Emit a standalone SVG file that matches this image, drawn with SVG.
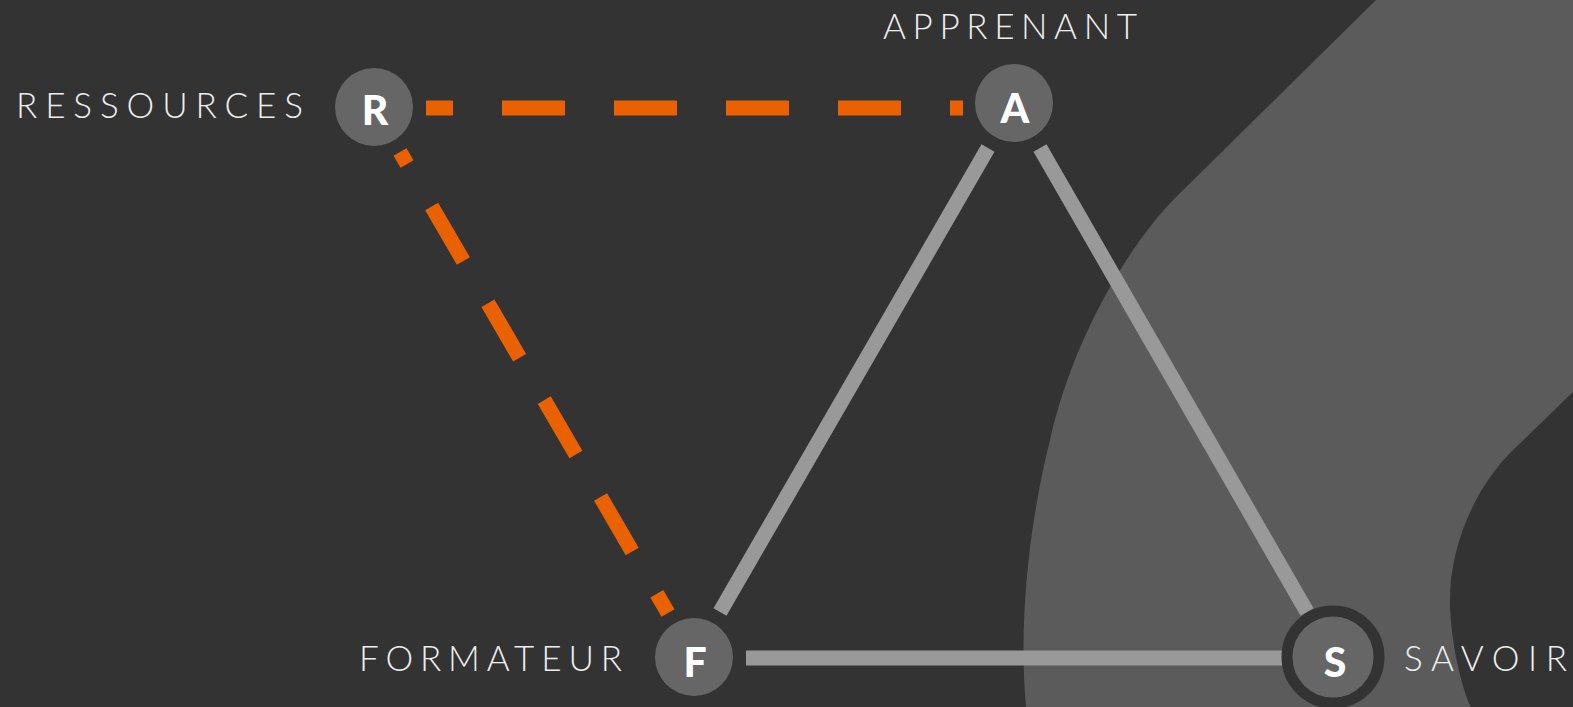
<svg xmlns="http://www.w3.org/2000/svg" width="1573" height="707" viewBox="0 0 1573 707">
  <style>
    .label { font-family: "Lato", "Open Sans", "Liberation Sans", sans-serif; font-weight: 300; font-size: 35px; fill: #eeeeee; }
    .node circle { fill: #666666; }
    .initial { font-family: "Lato", "Open Sans", "Liberation Sans", sans-serif; font-weight: 900; font-size: 41px; fill: #ffffff; text-anchor: middle; }
    .solid { stroke: #999999; stroke-width: 15; fill: none; }
    .dashed { stroke: #EA6200; stroke-width: 15; fill: none; stroke-dasharray: 63 49; }
  </style>
  <rect x="0" y="0" width="1573" height="707" fill="#333333"/>
  <path id="background-band" fill="#5b5b5b" d="M1376,0 L1573,0 L1573,392 L1512,451 C1475,488 1450,545 1450,600 C1450,640 1462,690 1471,707 L1026,707 C1018,620 1030,520 1050,440 C1070,350 1120,255 1175,198 Z"/>
  <g id="connectors">
    <line class="dashed" x1="426" y1="108" x2="963" y2="108" stroke-dashoffset="36"/>
    <line class="dashed" x1="400" y1="152" x2="668" y2="613" stroke-dashoffset="49"/>
    <line class="solid" x1="988" y1="148" x2="720" y2="612"/>
    <line class="solid" x1="1040" y1="148" x2="1307" y2="612"/>
    <line class="solid" x1="746" y1="658" x2="1283" y2="658"/>
  </g>
  <g id="node-R" class="node">
    <circle cx="374" cy="107" r="39"/>
    <text class="initial" x="375" y="125">R</text>
    <text class="label" x="16" y="118" textLength="287" lengthAdjust="spacing">RESSOURCES</text>
  </g>
  <g id="node-A" class="node">
    <circle cx="1014" cy="103" r="39"/>
    <text class="initial" x="1015" y="123">A</text>
    <text class="label" x="883" y="39" textLength="254" lengthAdjust="spacing">APPRENANT</text>
  </g>
  <g id="node-F" class="node">
    <circle cx="694" cy="657" r="39"/>
    <text class="initial" x="695" y="677">F</text>
    <text class="label" x="359" y="671" textLength="263" lengthAdjust="spacing">FORMATEUR</text>
  </g>
  <g id="node-S" class="node">
    <circle cx="1333" cy="657" r="46" style="stroke:#333333;stroke-width:11"/>
    <text class="initial" x="1335" y="677">S</text>
    <text class="label" x="1404" y="671" textLength="163" lengthAdjust="spacing">SAVOIR</text>
  </g>
</svg>
